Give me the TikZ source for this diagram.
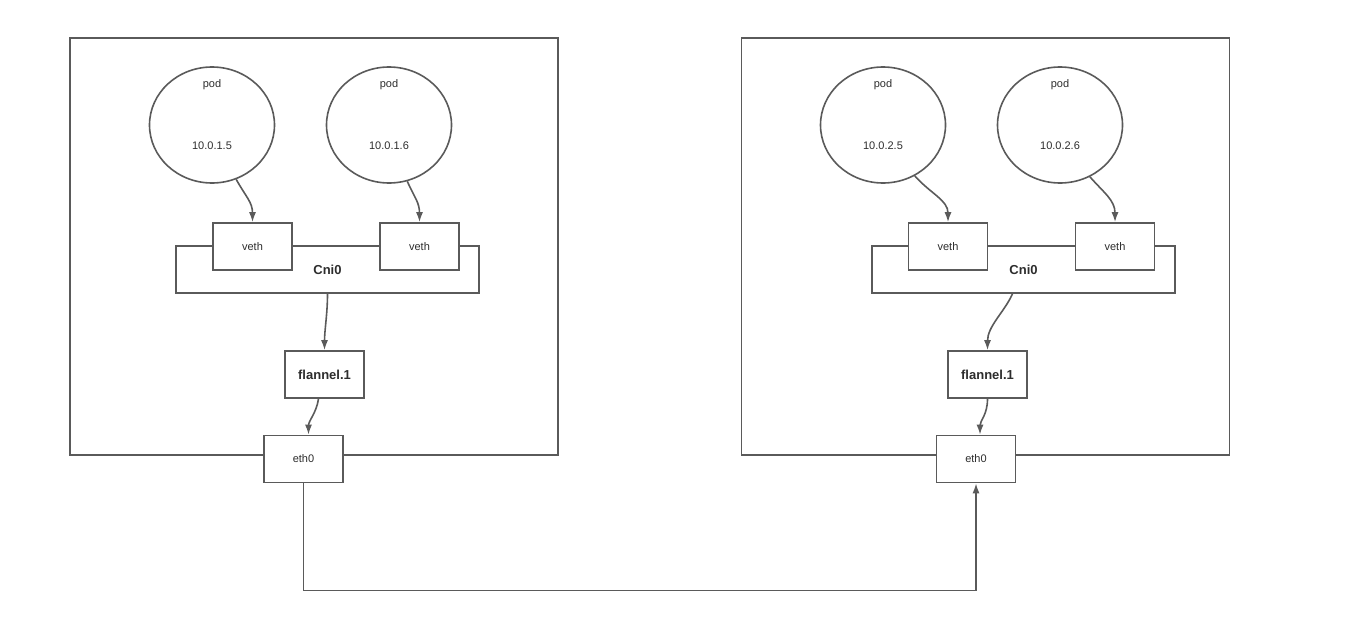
\documentclass[tikz,border=0pt]{standalone}
\usepackage{fontspec}
\setmainfont{Liberation Sans}
\usetikzlibrary{arrows.meta, shapes.geometric}

\definecolor{linegray}{RGB}{90,90,90}
\definecolor{textgray}{RGB}{45,45,45}

\begin{document}
\begin{tikzpicture}[x=1pt, y=-1pt, font=\fontsize{11}{13}\selectfont, text=textgray]

        % Setup the styles for the boxes and pods
        \tikzset{host style/.style={draw=linegray, line width=1.6pt,
                                    minimum width=488pt, minimum height=417pt},
                 pod style/.style={ellipse, draw=linegray, line width=1.6pt,
                                   minimum width=125pt, minimum height=116pt,
                                   inner sep=0pt},
                 port style/.style={draw=linegray, line width=1.6pt, fill=white,
                                    minimum width=79pt, minimum height=47pt,
                                    inner sep=0pt},
                 bridge style/.style={draw=linegray, line width=1.6pt,
                                      minimum width=303pt, minimum height=47pt,
                                      font=\fontsize{13}{15}\selectfont\bfseries},
                 link/.style={draw=linegray, line width=1.6pt,
                              -{Latex[length=10pt, width=7pt]}}}

        \useasboundingbox (0,0) rectangle (1354,621);

        % Draw the hosts
        \node[host style] at (314,246.5)  (hostA) {};
        \node[host style] at (985.5,246.5) (hostB) {};

        % Draw the pods
        \node[pod style] at (212,125)  (podA) {};
        \node[pod style] at (389,125)  (podB) {};
        \node[pod style] at (883,125)  (podC) {};
        \node[pod style] at (1060,125) (podD) {};

        \node at (212,85)   (podAname) {pod};
        \node at (212,146)  (podAip)   {10.0.1.5};
        \node at (389,85)   (podBname) {pod};
        \node at (389,146)  (podBip)   {10.0.1.6};
        \node at (883,85)   (podCname) {pod};
        \node at (883,146)  (podCip)   {10.0.2.5};
        \node at (1060,85)  (podDname) {pod};
        \node at (1060,146) (podDip)   {10.0.2.6};

        % Draw the bridges and the veth pairs
        \node[bridge style] at (327.5,269.5)  (cniA) {Cni0};
        \node[bridge style] at (1023.5,269.5) (cniB) {Cni0};

        \node[port style] at (252.5,246.5)  (vethA) {veth};
        \node[port style] at (419.5,246.5)  (vethB) {veth};
        \node[port style] at (948,246.5)    (vethC) {veth};
        \node[port style] at (1115,246.5)   (vethD) {veth};

        % Draw flannel and eth0
        \node[port style, font=\fontsize{13}{15}\selectfont\bfseries]
                            at (324.5,374.5) (flannelA) {flannel.1};
        \node[port style, font=\fontsize{13}{15}\selectfont\bfseries]
                            at (987.5,374.5) (flannelB) {flannel.1};
        \node[port style] at (303.5,459)  (ethA) {eth0};
        \node[port style] at (976,459)    (ethB) {eth0};

        % Connect the nodes with arrows
        \draw[link] (podA.-66) .. controls +(10,18) and +(0,-20) .. (vethA.north);
        \draw[link] (podB.-72) .. controls +(7,16) and +(0,-20) .. (vethB.north);
        \draw[link] (podC.-58) .. controls +(16,18) and +(0,-22) .. (vethC.north);
        \draw[link] (podD.-60) .. controls +(14,16) and +(0,-22) .. (vethD.north);

        \draw[link] (cniA.south) .. controls +(0,20) and +(0,-20) .. (flannelA.north);
        \draw[link] ([xshift=-11pt]cniB.south)
                    .. controls +(-8,18) and +(0,-24) .. (flannelB.north);

        \draw[link] ([xshift=-6pt]flannelA.south)
                    .. controls +(-2,14) and +(0,-14) .. ([xshift=5pt]ethA.north);
        \draw[link] (flannelB.south)
                    .. controls +(0,16) and +(0,-14) .. ([xshift=4pt]ethB.north);

        \draw[link] (ethA.south) -- ++(0,107) -| (ethB.south);
    \end{tikzpicture}
\end{document}
